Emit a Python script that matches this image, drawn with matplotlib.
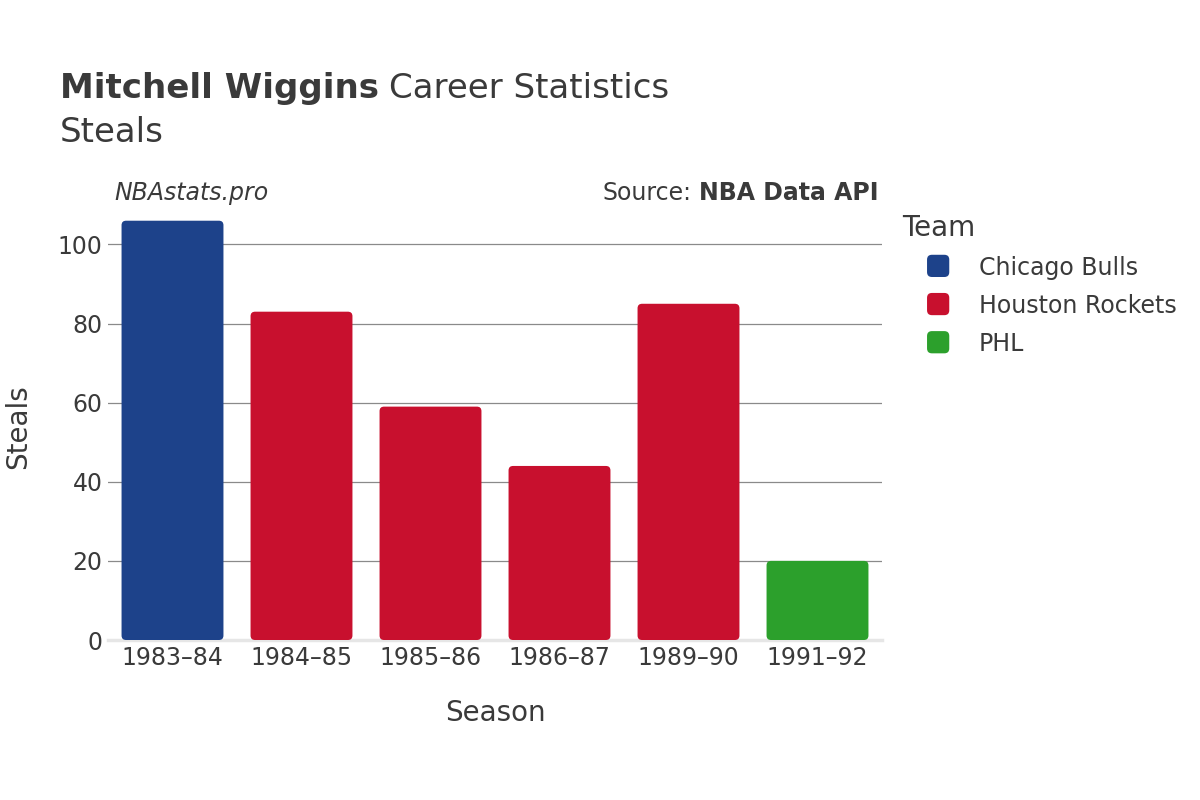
import matplotlib.pyplot as plt
from matplotlib.patches import FancyBboxPatch, Patch
from matplotlib.legend_handler import HandlerPatch

seasons = ['1983–84', '1984–85', '1985–86', '1986–87', '1989–90', '1991–92']
steals = [106, 83, 59, 44, 85, 20]
teams = ['Chicago Bulls', 'Houston Rockets', 'Houston Rockets', 'Houston Rockets',
         'Houston Rockets', 'PHL']
team_colors = {'Chicago Bulls': '#1d428a', 'Houston Rockets': '#c8102e', 'PHL': '#2ca02c'}

text_color = '#3a3a3a'
plt.rcParams['font.family'] = ['DejaVu Sans']

fig = plt.figure(figsize=(12, 8), dpi=100)
ax = fig.add_axes([0.09, 0.2, 0.645, 0.534])

ax.set_xlim(-0.5, len(seasons) - 0.5)
ax.set_ylim(0, 108)

width = 0.79
# rounding in x units, aspect corrects for y scale (px per unit)
px_x = 0.645 * 1200 / len(seasons)
px_y = 0.534 * 800 / 108
for i, (v, t) in enumerate(zip(steals, teams)):
    box = FancyBboxPatch((i - width / 2, 0), width, v,
                         boxstyle='round,pad=0,rounding_size=0.035',
                         mutation_aspect=px_x / px_y,
                         facecolor=team_colors[t], edgecolor='none', zorder=3)
    ax.add_patch(box)

ax.set_yticks([0, 20, 40, 60, 80, 100])
ax.grid(axis='y', color='#8a8a8a', linewidth=0.9, zorder=0)
ax.set_axisbelow(True)
ax.set_xticks(range(len(seasons)))
ax.set_xticklabels(seasons)
ax.tick_params(axis='x', length=0, pad=4, labelsize=17, labelcolor=text_color)
ax.tick_params(axis='y', length=0, pad=4, labelsize=17, labelcolor=text_color)
for s in ['top', 'right', 'left']:
    ax.spines[s].set_visible(False)
ax.spines['bottom'].set_color('#e6e6e6')
ax.spines['bottom'].set_linewidth(2.5)

ax.set_xlabel('Season', fontsize=20, color=text_color, labelpad=21)
ax.set_ylabel('Steals', fontsize=20, color=text_color, labelpad=18)

# title
t1 = fig.text(0.05, 0.877, 'Mitchell Wiggins', fontsize=24.5, fontweight='bold',
              color=text_color, va='baseline')
fig.canvas.draw()
bb = t1.get_window_extent()
fig.text(bb.x1 / 1200 + 0.008, 0.877, 'Career Statistics', fontsize=24.5,
         color=text_color, va='baseline')
fig.text(0.05, 0.823, 'Steals', fontsize=24.5, color=text_color, va='baseline')

fig.text(0.095, 0.75, 'NBAstats.pro', fontsize=17, style='italic',
         color=text_color, va='baseline')
s2 = fig.text(0.732, 0.75, 'NBA Data API', fontsize=17, fontweight='bold',
              color=text_color, va='baseline', ha='right')
fig.canvas.draw()
bb2 = s2.get_window_extent()
fig.text(bb2.x0 / 1200 - 0.006, 0.75, 'Source:', fontsize=17,
         color=text_color, va='baseline', ha='right')


class RoundHandler(HandlerPatch):
    def create_artists(self, legend, orig_handle, xdescent, ydescent, width,
                       height, fontsize, trans):
        s = 16
        p = FancyBboxPatch((xdescent + width - s, ydescent + (height - s) / 2 - 3),
                           s, s, boxstyle='round,pad=0,rounding_size=3.5',
                           facecolor=orig_handle.get_facecolor(), edgecolor='none',
                           transform=trans)
        return [p]


handles = [Patch(facecolor=c, label=n) for n, c in team_colors.items()]
leg = fig.legend(handles=handles, loc='upper left', bbox_to_anchor=(0.7517, 0.733),
                 frameon=False, fontsize=17, title='Team', title_fontsize=20,
                 handler_map={Patch: RoundHandler()}, handlelength=2.0,
                 handleheight=1.0, handletextpad=1.25, labelspacing=0.6,
                 borderpad=0, borderaxespad=0)
leg._legend_box.align = 'left'
for txt in leg.get_texts():
    txt.set_color(text_color)
leg.get_title().set_color(text_color)

fig.savefig('out.png', dpi=100)
